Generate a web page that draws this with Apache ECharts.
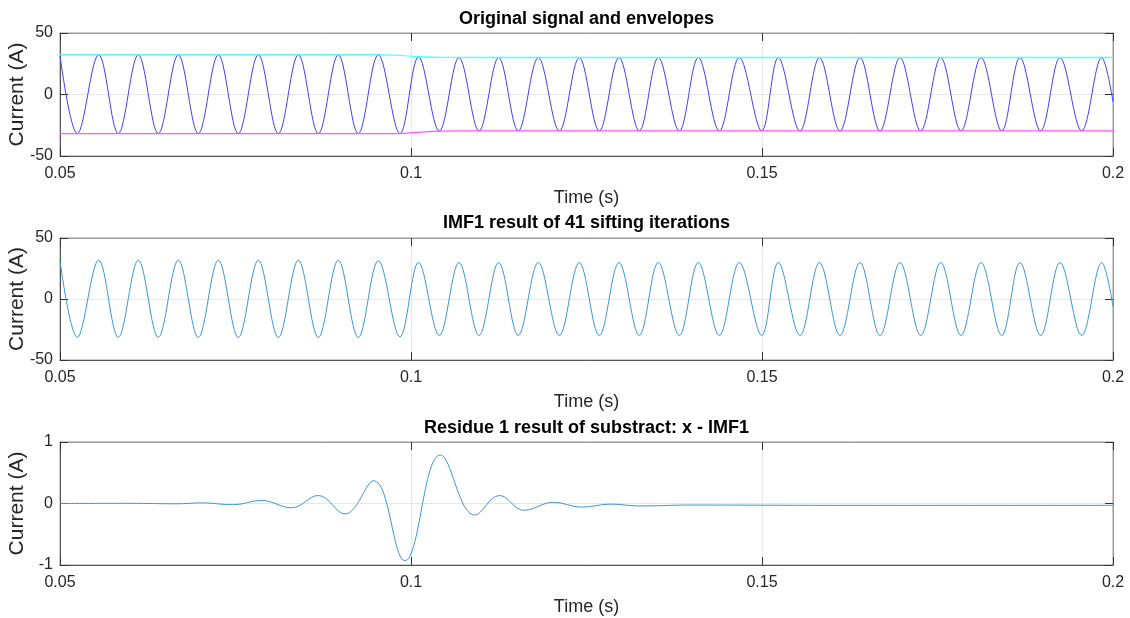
<!DOCTYPE html>
<html>
<head>
<meta charset="utf-8">
<script src="https://cdn.jsdelivr.net/npm/echarts@6/dist/echarts.min.js"></script>
<style>
  html, body { margin: 0; padding: 0; background: #fff; }
  #chart { width: 1130px; height: 618px; }
</style>
</head>
<body>
<div id="chart"></div>
<script>
// peaks and troughs of the signal (s)
const extremaTimes = [
  0.05000, 0.05246, 0.05551, 0.05830, 0.06115, 0.06400, 0.06685, 0.06970, 0.07255, 0.07540,
  0.07825, 0.08110, 0.08395, 0.08680, 0.08964, 0.09249, 0.09534, 0.09843, 0.10107, 0.10403,
  0.10684, 0.10969, 0.11249, 0.11528, 0.11813, 0.12113, 0.12397, 0.12682, 0.12963, 0.13252,
  0.13523, 0.13822, 0.14093, 0.14392, 0.14677, 0.14996, 0.15232, 0.15541, 0.15819, 0.16111,
  0.16396, 0.16681, 0.16966, 0.17261, 0.17546, 0.17835, 0.18120, 0.18415, 0.18675, 0.18970,
  0.19245, 0.19554, 0.19839, 0.20000
];
const signalValues = [
  31.4, -31.8, 32.3, -31.8, 32.3, -31.8, 32.3, -31.8, 32.3, -31.8,
  32.3, -31.8, 32.3, -31.8, 32.3, -31.8, 32.3, -31.8, 30.6, -29.7,
  30.0, -29.6, 30.0, -29.6, 30.0, -29.6, 30.0, -29.6, 30.0, -29.6,
  30.0, -29.6, 30.0, -29.6, 30.0, -29.6, 30.0, -29.6, 30.0, -29.6,
  30.0, -29.6, 30.0, -29.6, 30.0, -29.6, 30.0, -29.6, 30.0, -29.6,
  30.0, -29.6, 30.0, -6.0
];
const imfValues = [
  31.2, -31.5, 31.8, -31.5, 31.8, -31.5, 31.8, -31.5, 31.8, -31.5,
  31.8, -31.5, 31.8, -31.5, 31.8, -31.6, 31.4, -31.0, 30.0, -29.9,
  29.9, -29.9, 29.9, -29.9, 29.9, -29.9, 29.9, -29.9, 29.9, -29.9,
  29.9, -29.9, 29.9, -29.9, 29.9, -29.9, 29.9, -29.9, 29.9, -29.9,
  29.9, -29.9, 29.9, -29.9, 29.9, -29.9, 29.9, -29.9, 29.9, -29.9,
  29.9, -29.9, 29.9, -6.0
];

const upperEnvTimes = [0.05, 0.095, 0.0985, 0.1003, 0.104, 0.11, 0.2];
const upperEnvValues = [32.4, 32.4, 31.8, 30.9, 30.2, 30.1, 30.1];
const lowerEnvTimes = [0.05, 0.098, 0.1013, 0.104, 0.107, 0.2];
const lowerEnvValues = [-31.8, -31.8, -30.6, -29.7, -29.5, -29.6];

const residueTimes = [
  0.05, 0.06, 0.0666, 0.0702, 0.0747, 0.0787, 0.0830, 0.0868, 0.0906, 0.0947,
  0.0991, 0.1042, 0.1091, 0.1126, 0.1161, 0.1203, 0.1243, 0.1284, 0.1326, 0.14,
  0.16, 0.2
];
const residueValues = [
  0.0, 0.003, -0.005, 0.01, -0.02, 0.05, -0.07, 0.13, -0.17, 0.37,
  -0.93, 0.79, -0.19, 0.13, -0.11, 0.02, -0.06, -0.01, -0.04, -0.025,
  -0.03, -0.03
];

const titles = [
  'Original signal and envelopes',
  'IMF1 result of 41 sifting iterations',
  'Residue 1 result of substract: x - IMF1'
];
const yRanges = [[-50, 50, 50], [-50, 50, 50], [-1, 1, 1]];

const pairs = (xs, ys) => xs.map((x, i) => [x, ys[i]]);

const font = '"Liberation Sans", Arial, Helvetica, sans-serif';
const ink = '#262626';
const gridTops = [33, 238, 442];
const gridHeights = [123, 122, 123];

const chart = echarts.init(document.getElementById('chart'));

const grids = [], xAxes = [], yAxes = [], graphics = [];
gridTops.forEach((top, i) => {
  grids.push({ left: 60, right: 17, top: top, height: gridHeights[i], show: true,
    containLabel: false, outerBoundsMode: 'none',
    borderColor: '#9a9a9a', borderWidth: 1, backgroundColor: '#fff' });
  const xBase = { gridIndex: i, type: 'value', min: 0.05, max: 0.2, interval: 0.05 };
  xAxes.push(Object.assign({}, xBase, {
    position: 'bottom',
    name: 'Time (s)', nameLocation: 'middle', nameGap: 33, nameMoveOverlap: false,
    nameTextStyle: { fontSize: 18, color: ink, fontFamily: font },
    axisLine: { show: true, onZero: false, lineStyle: { color: '#555', width: 1 } },
    axisTick: { show: true, inside: true, length: 8, lineStyle: { color: '#333' } },
    axisLabel: { color: ink, fontSize: 16, margin: 10, fontFamily: font },
    splitLine: { show: true, lineStyle: { color: '#e6e6e6', width: 1 } }
  }));
  xAxes.push(Object.assign({}, xBase, {
    position: 'top',
    axisLine: { show: true, onZero: false, lineStyle: { color: '#9a9a9a', width: 1 } },
    axisTick: { show: true, inside: true, length: 8, lineStyle: { color: '#333' } },
    axisLabel: { show: false },
    splitLine: { show: false }
  }));
  const [ymin, ymax, yint] = yRanges[i];
  const yBase = { gridIndex: i, type: 'value', min: ymin, max: ymax, interval: yint };
  yAxes.push(Object.assign({}, yBase, {
    position: 'left',
    name: 'Current (A)', nameLocation: 'middle', nameGap: 32, nameMoveOverlap: false,
    nameTextStyle: { fontSize: 21, color: ink, fontFamily: font },
    axisLine: { show: true, onZero: false, lineStyle: { color: '#555', width: 1 } },
    axisTick: { show: true, inside: true, length: 8, lineStyle: { color: '#333' } },
    axisLabel: { color: ink, fontSize: 16, margin: 7, fontFamily: font },
    splitLine: { show: true, lineStyle: { color: '#e6e6e6', width: 1 } }
  }));
  yAxes.push(Object.assign({}, yBase, {
    position: 'right',
    axisLine: { show: true, onZero: false, lineStyle: { color: '#9a9a9a', width: 1 } },
    axisTick: { show: true, inside: true, length: 8, lineStyle: { color: '#333' } },
    axisLabel: { show: false },
    splitLine: { show: false }
  }));
});

const titleY = [19, 223, 428];
titles.forEach((t, i) => {
  graphics.push({
    type: 'text', x: 586.5, y: titleY[i], silent: true,
    style: { text: t, fill: '#000', font: 'bold 18px ' + font,
      textAlign: 'center', textVerticalAlign: 'middle' }
  });
});

const lineBase = { type: 'line', showSymbol: false, symbol: 'none', animation: false };

chart.setOption({
  animation: false,
  backgroundColor: '#fff',
  grid: grids,
  xAxis: xAxes,
  yAxis: yAxes,
  graphic: graphics,
  series: [
    Object.assign({}, lineBase, { name: 'signal', xAxisIndex: 0, yAxisIndex: 0, smooth: 0.36,
      data: pairs(extremaTimes, signalValues), lineStyle: { color: '#4040ff', width: 1 } }),
    Object.assign({}, lineBase, { name: 'upper envelope', xAxisIndex: 0, yAxisIndex: 0, smooth: 0.3,
      data: pairs(upperEnvTimes, upperEnvValues), lineStyle: { color: '#55ffff', width: 1.3 } }),
    Object.assign({}, lineBase, { name: 'lower envelope', xAxisIndex: 0, yAxisIndex: 0, smooth: 0.3,
      data: pairs(lowerEnvTimes, lowerEnvValues), lineStyle: { color: '#ff55ff', width: 1.3 } }),
    Object.assign({}, lineBase, { name: 'IMF1', xAxisIndex: 2, yAxisIndex: 2, smooth: 0.36,
      data: pairs(extremaTimes, imfValues), lineStyle: { color: '#3d96d6', width: 1 } }),
    Object.assign({}, lineBase, { name: 'residue', xAxisIndex: 4, yAxisIndex: 4, smooth: 0.4,
      data: pairs(residueTimes, residueValues), lineStyle: { color: '#3d96d6', width: 1 } })
  ]
});
</script>
</body>
</html>
